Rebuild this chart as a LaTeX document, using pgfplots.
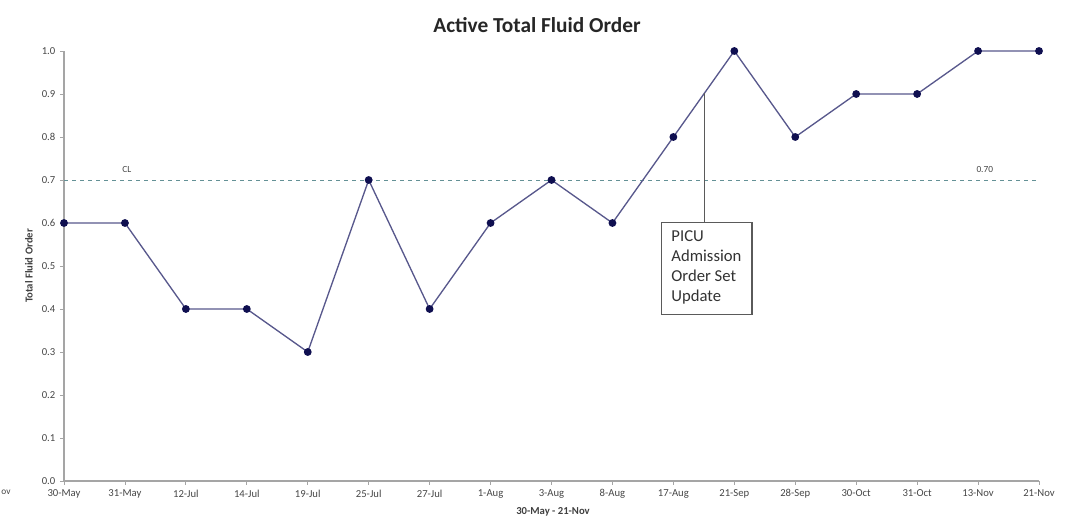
\documentclass[border=0pt]{standalone}
\usepackage{pgfplots}
\pgfplotsset{compat=1.18}
\usepackage{fontspec}
\setmainfont{Carlito}
\definecolor{linec}{RGB}{88,88,140}
\definecolor{markc}{RGB}{15,15,80}
\definecolor{clc}{RGB}{100,145,150}
\definecolor{axc}{RGB}{165,165,165}
\definecolor{txt}{RGB}{70,70,70}
\definecolor{boxc}{RGB}{90,90,90}
\begin{document}
\begin{tikzpicture}
\useasboundingbox (0pt,0pt) rectangle (802.5pt,390pt);
\begin{axis}[
  at={(48pt,29.25pt)}, anchor=south west,
  scale only axis, width=731.25pt, height=322.5pt,
  xmin=0, xmax=16, ymin=0, ymax=1,
  clip=false,
  axis x line*=bottom, axis y line*=left,
  axis line style={axc, line width=0.8pt, -},
  xtick={0,...,16},
  xticklabels={30-May,31-May,12-Jul,14-Jul,19-Jul,25-Jul,27-Jul,1-Aug,3-Aug,8-Aug,17-Aug,21-Sep,28-Sep,30-Oct,31-Oct,13-Nov,21-Nov},
  ytick={0,0.1,0.2,0.3,0.4,0.5,0.6,0.7,0.8,0.9,1.0},
  yticklabel style={/pgf/number format/fixed, /pgf/number format/fixed zerofill, /pgf/number format/precision=1, /pgf/number format/assume math mode=true, font=\fontsize{8}{9}\selectfont, text=txt},
  xticklabel style={font=\fontsize{8}{9}\selectfont, text=txt},
  tick style={axc, line width=0.6pt},
  tick align=outside, major tick length=3pt,
]
\addplot[clc, dashed, line width=0.7pt, forget plot] coordinates {(0,0.7) (16,0.7)};
\addplot[linec, line width=1pt, mark=*, mark size=2.4pt, mark options={fill=markc, draw=markc}] coordinates {
(0,0.6) (1,0.6) (2,0.4) (3,0.4) (4,0.3) (5,0.7) (6,0.4) (7,0.6) (8,0.7) (9,0.6) (10,0.8) (11,1.0) (12,0.8) (13,0.9) (14,0.9) (15,1.0) (16,1.0)};
\node[font=\fontsize{7}{8}\selectfont, text=txt] at (axis cs:1.03,0.725) {CL};
\node[font=\fontsize{7}{8}\selectfont, text=txt] at (axis cs:15.11,0.725) {0.70};
\draw[boxc, line width=0.9pt] (axis cs:10.51,0.902) -- (axis cs:10.51,0.602);
\draw[boxc, line width=0.9pt, fill=white] (axis cs:9.80,0.388) rectangle (axis cs:11.29,0.602);
\node[anchor=north west, align=left, inner sep=0pt, font=\fontsize{12.5}{15}\selectfont, text=black!80] at ([xshift=7.5pt,yshift=-6pt]axis cs:9.80,0.602) {PICU\\Admission\\Order Set\\Update};
\end{axis}
\node[font=\bfseries\fontsize{16}{19}\selectfont, text=black!85] at (402.75pt,371.25pt) {Active Total Fluid Order};
\node[font=\bfseries\fontsize{8}{9}\selectfont, text=black!75, rotate=90] at (21.75pt,190.5pt) {Total Fluid Order};
\node[font=\bfseries\fontsize{8}{9}\selectfont, text=black!75] at (414.75pt,6pt) {30-May - 21-Nov};
\node[font=\fontsize{7}{8}\selectfont, text=txt] at (4.5pt,21pt) {ov};
\end{tikzpicture}
\end{document}
